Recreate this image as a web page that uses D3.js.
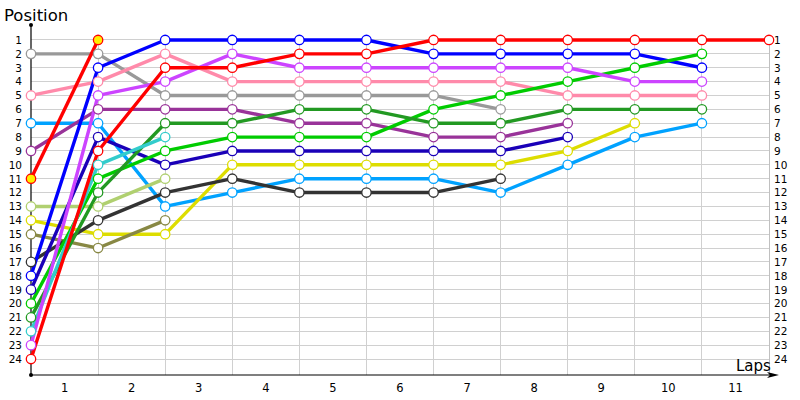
<!DOCTYPE html>
<html><head><meta charset="utf-8">
<script src="https://cdn.jsdelivr.net/npm/d3@7"></script>
<style>body{margin:0;background:#fff}svg{display:block}text{font-family:"DejaVu Sans",Verdana,sans-serif}</style>
</head><body><svg id="c" width="800" height="400"></svg>
<script>
const laps = [0,1,2,3,4,5,6,7,8,9,10,11];
const lapLabels = ["1","2","3","4","5","6","7","8","9","10","11"];
const positions = d3.range(1,25);
const seriesNames = ["gray","pink","lightblue","purple","redY","lightolive","yellow","olive","black","blue","darkblue","green","darkgreen","cyan","violet","red"];
const seriesColors = ["#999999","#ff8aaa","#00a2ff","#993399","#ff0000","#b0d070","#dddd00","#888844","#333333","#0000ff","#1a00b8","#00cc00","#229922","#33cccc","#cc44ff","#ff0000"];
const seriesFill = ["#fff","#fff","#fff","#fff","#ffee00","#fff","#fff","#fff","#fff","#fff","#fff","#fff","#fff","#fff","#fff","#fff"];
const gray = [2,2,5,5,5,5,5,6];
const pink = [5,4,2,4,4,4,4,4,5,5,5];
const lightblue = [7,7,13,12,11,11,11,12,10,8,7];
const purple = [9,6,6,6,7,7,8,8,7];
const redY = [11,1];
const lightolive = [13,13,11];
const yellow = [14,15,15,10,10,10,10,10,9,7];
const olive = [15,16,14];
const black = [17,14,12,11,12,12,12,11];
const blue = [18,3,1,1,1,1,2,2,2,2,3];
const darkblue = [19,8,10,9,9,9,9,9,8];
const green = [20,11,9,8,8,8,6,5,4,3,2];
const darkgreen = [21,12,7,7,6,6,7,7,6,6,6];
const cyan = [22,10,8];
const violet = [23,5,4,2,3,3,3,3,3,4,4];
const red = [24,9,3,3,2,2,1,1,1,1,1,1];
const seriesData = [gray,pink,lightblue,purple,redY,lightolive,yellow,olive,black,blue,darkblue,green,darkgreen,cyan,violet,red];

const svg = d3.select("#c");
const x = d3.scaleLinear().domain([0,11]).range([31,769]);
const y = d3.scaleLinear().domain([0,25]).range([26.1,372.9]);
const yBottom = 375;

// grid
svg.append("g").selectAll("line").data(positions).join("line")
  .attr("x1",x(0)).attr("x2",x(11)).attr("y1",d=>y(d)).attr("y2",d=>y(d))
  .attr("stroke","#d0d0d0").attr("stroke-width",1).attr("shape-rendering","crispEdges");
svg.append("g").selectAll("line").data(laps.slice(1)).join("line")
  .attr("x1",d=>x(d)).attr("x2",d=>x(d)).attr("y1",y(1)).attr("y2",yBottom)
  .attr("stroke",d=>d===11?"#c0c0c0":"#d0d0d0").attr("stroke-width",1).attr("shape-rendering","crispEdges");

// axes
const yAxisL = d3.axisLeft(y).tickValues(positions).tickSize(0).tickPadding(9);
const gl = svg.append("g").attr("transform",`translate(${x(0)},0)`).call(yAxisL);
gl.select(".domain").remove();
gl.selectAll("text").attr("font-size",10.5).attr("fill","#000");
const yAxisR = d3.axisRight(y).tickValues(positions).tickSize(0).tickPadding(5);
const gr = svg.append("g").attr("transform",`translate(${x(11)},0)`).call(yAxisR);
gr.select(".domain").remove();
gr.selectAll("text").attr("font-size",10.5).attr("fill","#000");

svg.append("g").selectAll("text").data(lapLabels).join("text")
  .attr("x",(d,i)=>x(i+0.5)).attr("y",392).attr("text-anchor","middle")
  .attr("font-size",11.5).text(d=>d);

svg.append("line").attr("x1",x(0)).attr("x2",x(0)).attr("y1",25).attr("y2",yBottom).attr("stroke","#000").attr("stroke-width",1.2);
svg.append("circle").attr("cx",x(0)).attr("cy",25).attr("r",2).attr("fill","#000");
svg.append("circle").attr("cx",x(0)).attr("cy",yBottom).attr("r",2).attr("fill","#000");
svg.append("line").attr("x1",x(0)).attr("x2",774).attr("y1",yBottom).attr("y2",yBottom).attr("stroke","#000").attr("stroke-width",1.2);
svg.append("path").attr("d",`M767,${yBottom-3} L779,${yBottom} L767,${yBottom+3} L770,${yBottom} Z`).attr("fill","#000");
svg.append("text").attr("x",4).attr("y",21).attr("font-size",16.5).text("Position");
svg.append("text").attr("x",736).attr("y",371).attr("font-size",15).text("Laps");

// series
const line = d3.line().x((d,i)=>x(laps[i])).y(d=>y(d));
const g = svg.append("g");
seriesData.forEach((s,k)=>{
  g.append("path").datum(s).attr("d",line).attr("fill","none")
   .attr("stroke",seriesColors[k]).attr("stroke-width",3.4).attr("stroke-linejoin","round");
});
seriesData.forEach((s,k)=>{
  g.append("g").selectAll("circle").data(s).join("circle")
   .attr("cx",(d,i)=>x(laps[i])).attr("cy",d=>y(d)).attr("r",4.7)
   .attr("fill",seriesFill[k]).attr("stroke",seriesColors[k]).attr("stroke-width",1.3);
});
</script></body></html>
